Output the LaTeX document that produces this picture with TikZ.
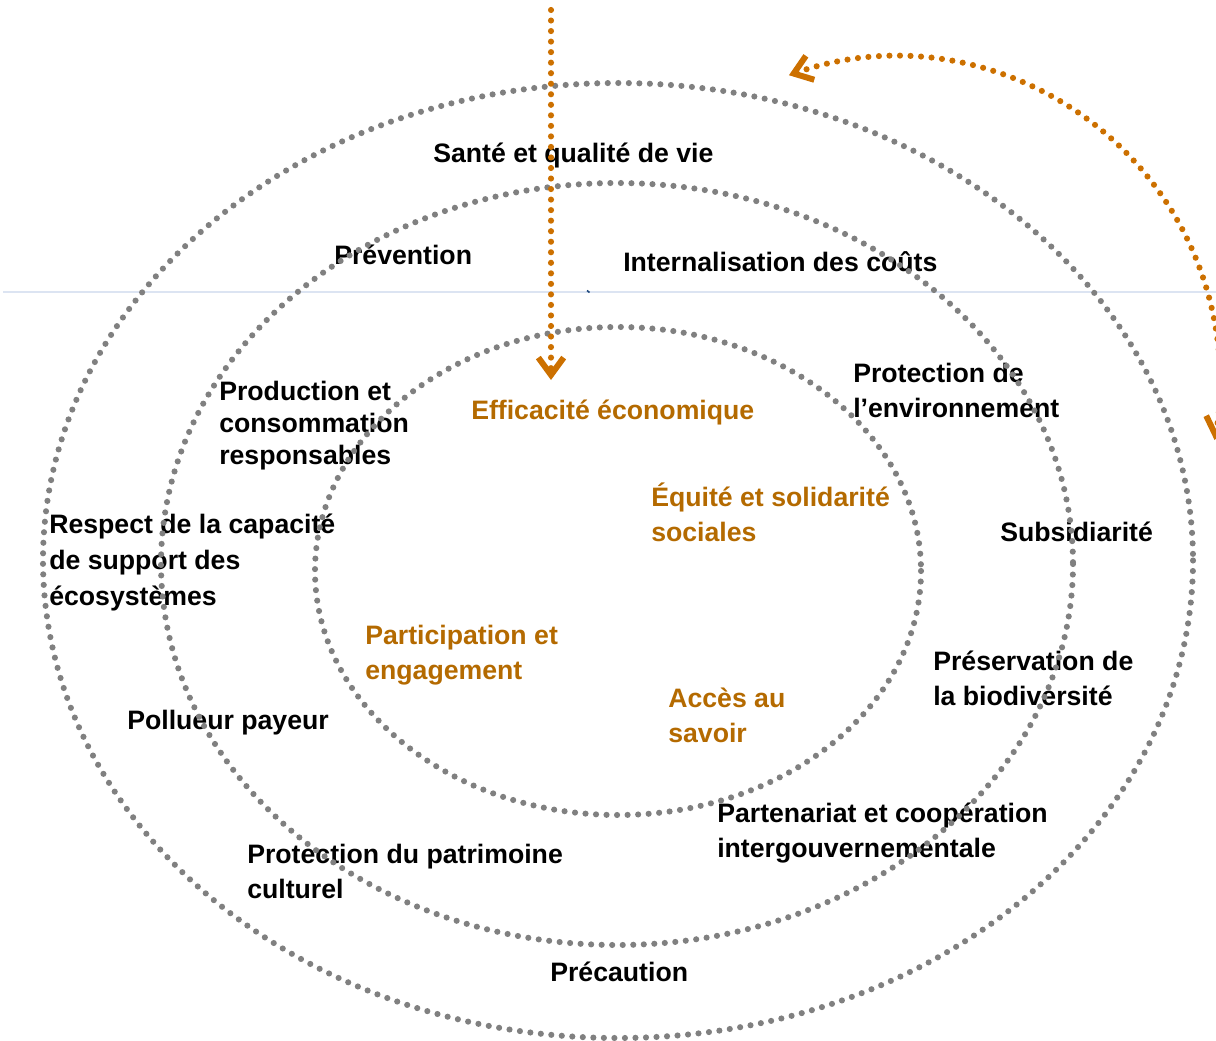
\documentclass[tikz,border=0pt]{standalone}
\usepackage{fontspec}
\setmainfont{Liberation Sans}
\usetikzlibrary{arrows.meta}
\definecolor{dotgray}{RGB}{128,128,128}
\definecolor{arrorange}{RGB}{204,112,0}
\definecolor{txtorange}{RGB}{180,106,0}
\definecolor{faintline}{RGB}{220,228,242}
\definecolor{tickblue}{RGB}{31,73,125}
\newcommand\mlines[1]{\begin{tabular}[t]{@{}l@{}}#1\end{tabular}}
\tikzset{mybarb/.tip={Straight Barb[length=13pt,width=19pt,line width=4.5pt]}}
\begin{document}
\begin{tikzpicture}[x=0.75pt,y=-0.75pt,
  ring/.style={draw=dotgray, line width=4.6pt, line cap=round, dash pattern=on 0pt off 7.9pt},
  orarrow/.style={draw=arrorange, line width=4.6pt, line cap=round, dash pattern=on 0pt off 7.9pt},
  lbl/.style={anchor=base west, inner sep=0pt, font=\bfseries\fontsize{20}{26.25}\selectfont},
  blk/.style={lbl, text=black},
  org/.style={lbl, text=txtorange}]
\useasboundingbox (0,0) rectangle (1216,1041);
\clip (0,0) rectangle (1216,1041);
% faint guide line
\coordinate (gl) at (3,292);
\coordinate (gr) at (1216,292);
\draw[faintline, line width=1pt] (gl) -- (gr);
\coordinate (tk1) at (587,290.5);
\coordinate (tk2) at (589.5,292.5);
\draw[tickblue, line width=1.2pt] (tk1) -- (tk2);
% labels
\node[blk] (sante) at (433,163) {Santé et qualité de vie};
\node[blk] (prev) at (334,264) {Prévention};
\node[blk] (intern) at (623,272) {Internalisation des coûts};
\node[blk, font=\bfseries\fontsize{20}{24}\selectfont] (prod) at (219,400) {\mlines{Production et\\consommation\\responsables}};
\node[org] (effic) at (471,419) {Efficacité économique};
\node[blk] (protenv) at (853,382) {\mlines{Protection de\\l’environnement}};
\node[org] (equite) at (651,506) {\mlines{Équité et solidarité\\sociales}};
\node[blk, font=\bfseries\fontsize{20}{27}\selectfont] (respect) at (49,533) {\mlines{Respect de la capacité\\de support des\\écosystèmes}};
\node[blk] (subsid) at (1000,541) {Subsidiarité};
\node[org] (partic) at (365,644) {\mlines{Participation et\\engagement}};
\node[blk] (preserv) at (933,670) {\mlines{Préservation de\\la biodiversité}};
\node[blk] (pollu) at (127,729) {Pollueur payeur};
\node[org] (acces) at (668,707) {\mlines{Accès au\\savoir}};
\node[blk] (parten) at (717,822) {\mlines{Partenariat et coopération\\intergouvernementale}};
\node[blk] (patrim) at (247,863) {\mlines{Protection du patrimoine\\culturel}};
\node[blk] (precau) at (550,981) {Précaution};
% rings
\coordinate (co) at (618,560.5);
\coordinate (cm) at (617,564);
\coordinate (ci) at (618,571);
\draw[ring] (co) ellipse [x radius=575, y radius=477.5];
\draw[ring] (cm) ellipse [x radius=456, y radius=381];
\draw[ring] (ci) ellipse [x radius=303, y radius=244];
% arrows
\coordinate (vs) at (551,10);
\coordinate (ve) at (551,380);
\draw[orarrow, arrows={-mybarb}] (vs) -- (ve);
\coordinate (cc) at (896,381);
\draw[orarrow, arrows={mybarb-mybarb}] ([shift={(250.7:324)}]cc) arc[start angle=250.7, end angle=370.5, radius=324];
\end{tikzpicture}
\end{document}
